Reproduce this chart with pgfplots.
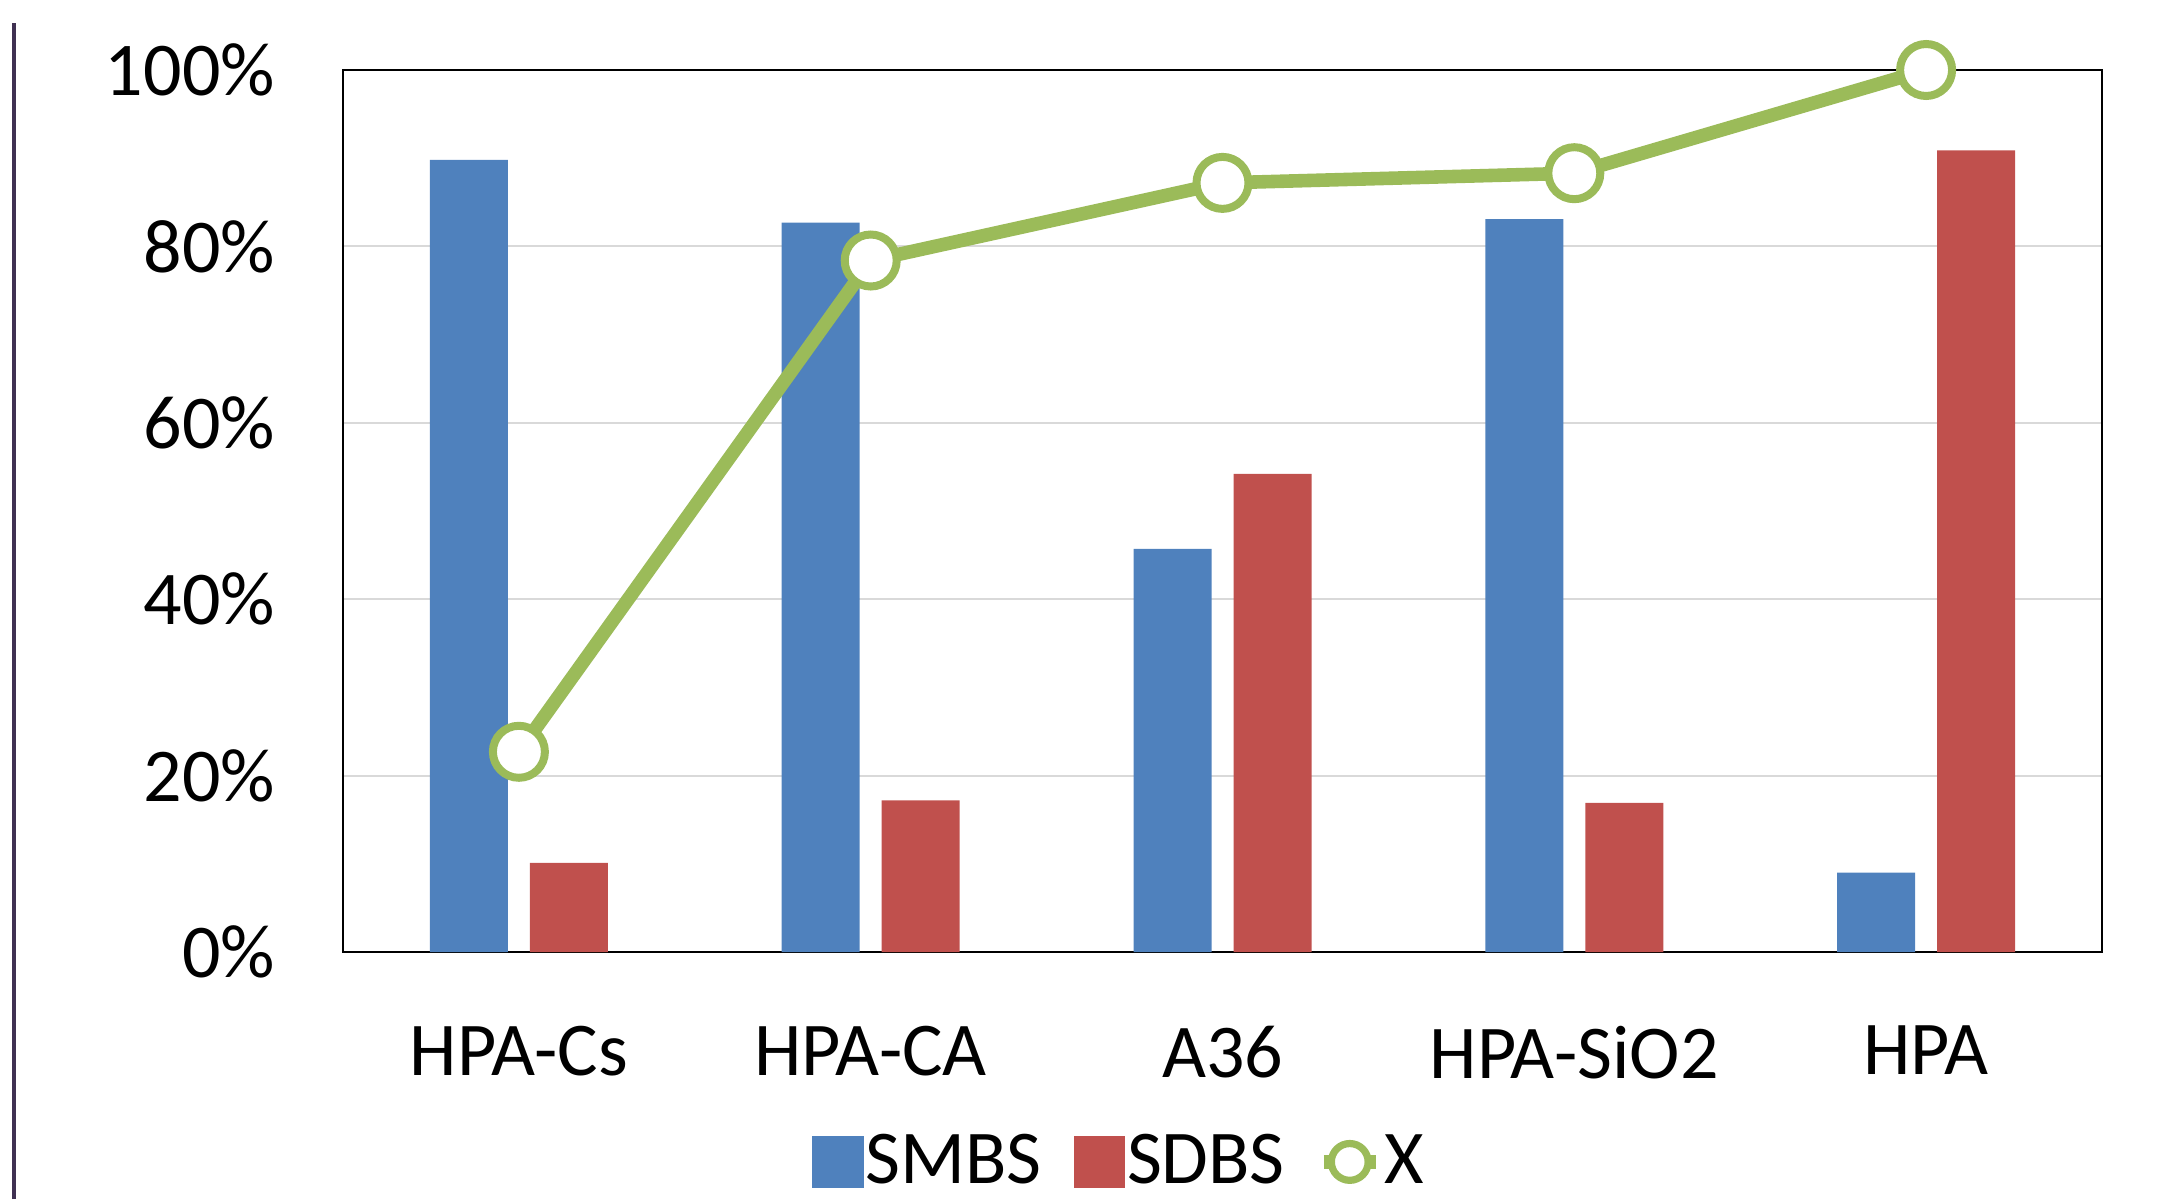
\documentclass[border=0pt]{standalone}
\usepackage{pgfplots}
\pgfplotsset{compat=1.18}
\usepackage{fontspec}
\setmainfont{Carlito}
\definecolor{cblue}{HTML}{4F81BD}
\definecolor{cred}{HTML}{C0504D}
\definecolor{cgreen}{HTML}{9BBB59}
\definecolor{cgrid}{HTML}{D9D9D9}
\definecolor{cpurple}{HTML}{403152}
\begin{document}
\begin{tikzpicture}
\useasboundingbox (0,0) rectangle (544.75pt,299.75pt);
\draw[cpurple, line width=1pt] (3.4pt,0) -- (3.4pt,294pt);
\begin{axis}[
  at={(85.75pt,61.75pt)}, anchor=south west,
  scale only axis, width=439.75pt, height=220.5pt,
  xmin=-0.5, xmax=4.5, ymin=0, ymax=100,
  xtick={0,1,2,3,4},
  xticklabels={HPA-Cs,HPA-CA,A36,HPA-SiO2,HPA},
  ytick={0,20,40,60,80,100},
  yticklabels={0\%,20\%,40\%,60\%,80\%,100\%},
  major tick length=0pt,
  ymajorgrids, grid style={cgrid, line width=0.45pt},
  axis line style={black, line width=0.5pt},
  tick label style={font=\fontsize{19}{22}\selectfont},
  yticklabel style={xshift=-13.5pt},
  xticklabel style={yshift=-15pt},
  clip=false,
  legend style={at={(rel axis cs:0.443,-0.238)}, anchor=center, draw=none,
    font=\fontsize{19}{22}\selectfont, legend columns=-1,
    /tikz/every even column/.append style={column sep=6pt},
    /tikz/every odd column/.append style={column sep=-1.5pt},
    inner sep=0pt},
]
\addplot[ybar, bar width=19.5pt, bar shift=-12.5pt, fill=cblue, draw=none,
  legend image code/.code={\fill[cblue] (0pt,-6.4pt) rectangle (12.8pt,6.4pt);}]
  coordinates {(0,89.8) (1,82.7) (2,45.7) (3,83.1) (4,9.0)};
\addlegendentry{SMBS}
\addplot[ybar, bar width=19.5pt, bar shift=12.5pt, fill=cred, draw=none,
  legend image code/.code={\fill[cred] (0pt,-6.4pt) rectangle (12.8pt,6.4pt);}]
  coordinates {(0,10.1) (1,17.2) (2,54.2) (3,16.9) (4,90.9)};
\addlegendentry{SDBS}
\addplot[cgreen, line width=3.4pt, mark=*, mark size=6.5pt,
  mark options={fill=white, draw=cgreen, line width=2pt},
  legend image code/.code={
    \draw[cgreen, line width=3.4pt] (0pt,0pt) -- (13pt,0pt);
    \draw[cgreen, fill=white, line width=1.8pt] (6.5pt,0pt) circle (4.6pt);}]
  coordinates {(0,22.7) (1,78.4) (2,87.2) (3,88.3) (4,100)};
\addlegendentry{X}
\end{axis}
\end{tikzpicture}
\end{document}
